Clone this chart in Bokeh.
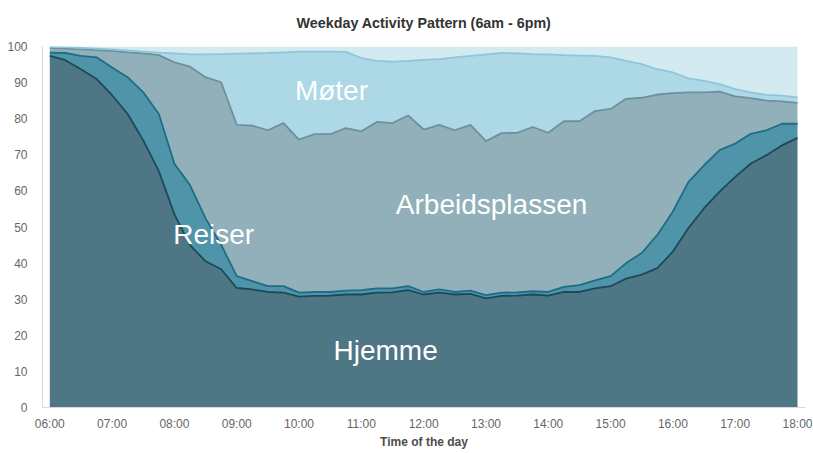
from bokeh.plotting import figure
from bokeh.models import ColumnDataSource, FixedTicker, Label, Range1d
from bokeh.embed import file_html
from bokeh.resources import INLINE

# ---- data (percent of people, 15-minute steps, 06:00 - 18:00) ----
times = [f"{6 + i // 4:02d}:{(i % 4) * 15:02d}" for i in range(49)]

hjemme = [97.4, 96.2, 93.7, 91.0, 86.5, 81.3, 74.0, 65.5, 53.5, 45.0, 40.5, 38.3, 33.1,
          32.7, 32.0, 31.8, 30.7, 30.9, 31.0, 31.3, 31.3, 31.8, 31.9, 32.5, 31.3,
          31.8, 31.3, 31.5, 30.2, 30.9, 31.0, 31.3, 31.0, 32.0, 32.0, 33.0, 33.6,
          35.7, 36.8, 38.6, 43.2, 49.7, 55.2, 59.8, 63.9, 67.6, 69.9, 72.6, 74.7]
reiser = [0.9, 2.0, 3.7, 6.0, 7.7, 10.2, 13.3, 15.8, 14.0, 16.6, 11.9, 6.8, 3.3,
          2.3, 1.6, 1.8, 1.1, 1.1, 1.0, 1.1, 1.2, 1.2, 1.1, 1.1, 0.7,
          0.9, 0.7, 0.9, 0.9, 0.9, 0.9, 0.9, 1.0, 1.4, 1.9, 2.2, 2.8,
          4.3, 6.0, 9.2, 11.1, 12.8, 11.9, 11.5, 9.2, 8.2, 6.9, 6.0, 3.9]
arbeidsplassen = [1.3, 1.2, 1.8, 2.0, 4.6, 6.9, 10.8, 16.3, 28.1, 32.8, 39.1, 45.0, 41.9,
                  43.1, 43.2, 45.2, 42.4, 43.7, 43.7, 45.0, 44.0, 46.1, 45.8, 47.3, 45.0,
                  45.6, 44.8, 45.9, 42.7, 44.2, 44.2, 45.5, 44.1, 45.9, 45.4, 46.9, 46.3,
                  45.5, 43.0, 38.9, 32.8, 24.8, 20.2, 16.2, 13.1, 9.9, 8.2, 6.2, 5.8]
moter = [0.3, 0.4, 0.4, 0.4, 0.4, 0.5, 0.5, 0.7, 2.5, 3.4, 6.3, 7.8, 19.7,
         20.0, 21.4, 19.6, 24.4, 22.9, 22.9, 21.1, 20.3, 16.9, 17.0, 15.1, 19.3,
         18.2, 20.2, 19.1, 24.0, 22.2, 22.0, 20.2, 21.7, 18.3, 18.2, 15.3, 14.3,
         10.5, 9.3, 7.0, 5.7, 3.9, 3.2, 2.1, 2.0, 1.6, 1.6, 1.6, 1.5]
annet = [0.1, 0.2, 0.4, 0.6, 0.8, 1.1, 1.4, 1.7, 1.9, 2.2, 2.2, 2.1, 2.0,
         1.9, 1.8, 1.6, 1.4, 1.4, 1.4, 1.5, 3.2, 4.0, 4.2, 4.0, 3.7,
         3.5, 3.0, 2.6, 2.2, 1.8, 1.9, 2.1, 2.2, 2.4, 2.5, 2.6, 3.0,
         4.0, 4.9, 6.3, 7.2, 8.8, 9.5, 10.4, 11.8, 12.7, 13.4, 13.6, 14.1]

series_names = ["Hjemme", "Reiser", "Arbeidsplassen", "Møter", "Annet"]
tick_labels = ["06:00", "07:00", "08:00", "09:00", "10:00", "11:00", "12:00",
               "13:00", "14:00", "15:00", "16:00", "17:00", "18:00"]
y_ticks = [0, 10, 20, 30, 40, 50, 60, 70, 80, 90, 100]

# ---- styles ----
fill_colors = ["#4e7685", "#5094aa", "#91b0ba", "#add8e6", "#d4eaf1"]
line_colors = ["#1b4a5a", "#1d6d86", "#6b919e", "#8ec6da"]
FONT = "Liberation Sans"


def to_hours(t):
    h, m = t.split(":")
    return int(h) + int(m) / 60.0


x = [to_hours(t) for t in times]
data = dict(x=x)
for name, vals in zip(series_names, [hjemme, reiser, arbeidsplassen, moter, annet]):
    data[name] = vals
src = ColumnDataSource(data)

p = figure(width=813, height=453, output_backend="svg", toolbar_location=None,
           x_range=Range1d(5.883, 18.128), y_range=Range1d(0, 100),
           min_border_left=42, min_border_right=8, min_border_top=44, min_border_bottom=46)

p.varea_stack(stackers=series_names, x="x", color=fill_colors, source=src)
p.vline_stack(stackers=series_names[:4], x="x", color=line_colors, line_width=1.8, source=src)

# title
p.title.text = "Weekday Activity Pattern (6am - 6pm)"
p.title.align = "center"
p.title.vertical_align = "top"
p.title.standoff = 28
p.title.text_font = FONT
p.title.text_font_size = "14.3px"
p.title.text_font_style = "bold"
p.title.text_color = "#333333"

# axes
tick_positions = [to_hours(t) for t in tick_labels]
p.xaxis.ticker = FixedTicker(ticks=tick_positions)
p.xaxis.major_label_overrides = {tp: lab for tp, lab in zip(tick_positions, tick_labels)}
p.yaxis.ticker = FixedTicker(ticks=y_ticks)
for ax in (p.xaxis, p.yaxis):
    ax.major_tick_line_color = None
    ax.minor_tick_line_color = None
    ax.major_tick_out = 0
    ax.major_tick_in = 0
    ax.axis_line_color = "#d8d8d8"
    ax.major_label_text_font = FONT
    ax.major_label_text_font_size = "12px"
    ax.major_label_text_color = "#666666"
p.yaxis.major_label_standoff = 15
p.xaxis.major_label_standoff = 9
p.xaxis.axis_label = "Time of the day"
p.xaxis.axis_label_text_font = FONT
p.xaxis.axis_label_text_font_size = "12px"
p.xaxis.axis_label_text_font_style = "bold"
p.xaxis.axis_label_text_color = "#4d4d4d"
p.xaxis.axis_label_standoff = 1

p.xgrid.grid_line_color = None
p.ygrid.grid_line_color = None
p.outline_line_color = None

# area labels
label_specs = [("Møter", 10.52, 87.9), ("Arbeidsplassen", 13.09, 56.2),
               ("Reiser", 8.63, 47.9), ("Hjemme", 11.39, 15.9)]
for txt, lx, ly in label_specs:
    p.add_layout(Label(x=lx, y=ly, text=txt, text_color="white", text_font=FONT,
                       text_font_size="28px", text_align="center",
                       text_baseline="alphabetic"))

open("out.html", "w").write(file_html(p, INLINE))
